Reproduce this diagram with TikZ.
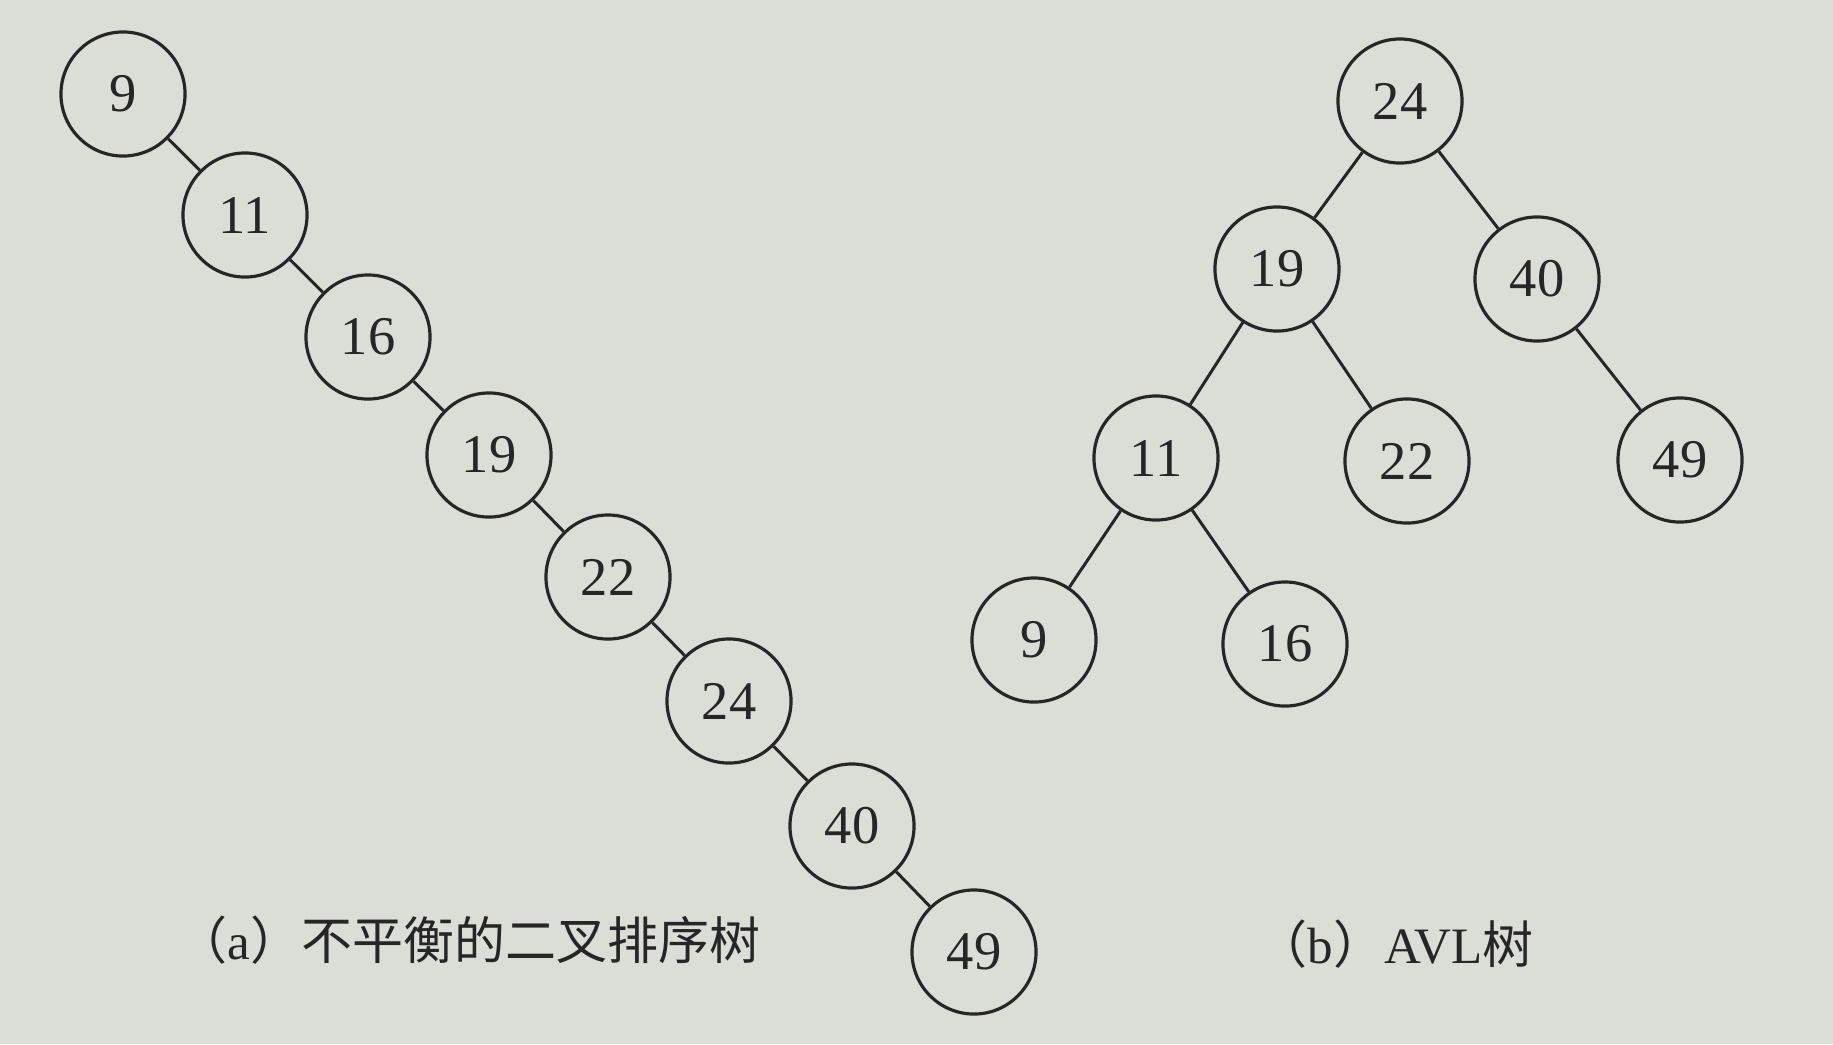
\documentclass[tikz,border=0pt]{standalone}
\usepackage{fontspec}
\setmainfont{Liberation Serif}
\newfontfamily\cjk{Noto Sans CJK SC}
\definecolor{paper}{RGB}{219,221,215}
\definecolor{ink}{RGB}{38,38,38}
\begin{document}
\begin{tikzpicture}[x=0.01cm,y=-0.01cm,
  tnode/.style={circle,draw=ink,line width=0.9pt,minimum size=1.24cm,inner sep=0pt,
     text=ink,font=\fontsize{15.5}{17}\selectfont},
  edge/.style={draw=ink,line width=0.85pt},
  caption/.style={anchor=west,text=ink,inner sep=0pt,font=\fontsize{14.5}{16}\selectfont}]
\fill[paper] (0,0) rectangle (1833,1044);
\useasboundingbox (0,0) rectangle (1833,1044);
% (a) unbalanced BST
\node[tnode] (a9)  at (123,94)  {9};
\node[tnode] (a11) at (245,215) {11};
\node[tnode] (a16) at (368,337) {16};
\node[tnode] (a19) at (489,455) {19};
\node[tnode] (a22) at (608,577) {22};
\node[tnode] (a24) at (729,701) {24};
\node[tnode] (a40) at (852,826) {40};
\node[tnode] (a49) at (974,952) {49};
\draw[edge] (a9)--(a11) (a11)--(a16) (a16)--(a19) (a19)--(a22)
            (a22)--(a24) (a24)--(a40) (a40)--(a49);
% (b) AVL tree
\node[tnode] (b24) at (1400,101) {24};
\node[tnode] (b19) at (1277,269) {19};
\node[tnode] (b40) at (1537,279) {40};
\node[tnode] (b11) at (1156,458) {11};
\node[tnode] (b22) at (1407,461) {22};
\node[tnode] (b49) at (1680,460) {49};
\node[tnode] (b9)  at (1034,640) {9};
\node[tnode] (b16) at (1285,644) {16};
\draw[edge] (b24)--(b19) (b24)--(b40) (b19)--(b11) (b19)--(b22)
            (b40)--(b49) (b11)--(b9) (b11)--(b16);
% captions
\node[caption] (capa) at (176,940) {{\cjk （}a{\cjk ）不平衡的二叉排序树}};
\node[caption] (capb) at (1256,944) {{\cjk （}b{\cjk ）}AVL{\cjk 树}};
\end{tikzpicture}
\end{document}
